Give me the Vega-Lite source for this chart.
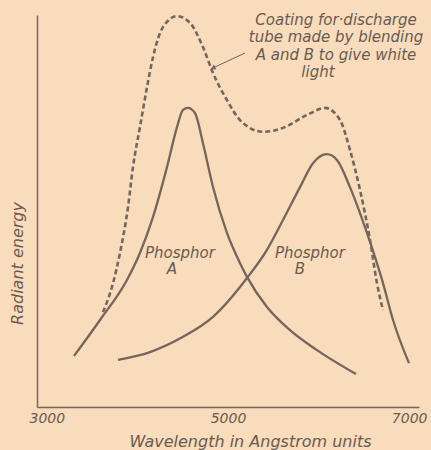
{
  "$schema": "https://vega.github.io/schema/vega-lite/v6.json",
  "width": 382,
  "height": 392,
  "autosize": {"type": "none"},
  "padding": {"left": 37, "top": 15, "right": 12, "bottom": 43},
  "background": "#f8dcbc",
  "config": {
    "view": {"stroke": null},
    "font": "DejaVu Sans",
    "axis": {"grid": false, "domainColor": "#75655c", "domainWidth": 1.5, "labelColor": "#6a5a52", "titleColor": "#6a5a52", "labelFontStyle": "italic", "titleFontStyle": "italic", "titleFontWeight": "normal"}
  },
  "datasets": {
    "curves": [
      {"x": 3387, "y": 13.0, "s": "A"}, {"x": 3660, "y": 22.2, "s": "A"}, {"x": 3942, "y": 32.4, "s": "A"}, {"x": 4078, "y": 39.3, "s": "A"}, {"x": 4215, "y": 48.5, "s": "A"}, {"x": 4361, "y": 61.2, "s": "A"}, {"x": 4466, "y": 71.4, "s": "A"}, {"x": 4529, "y": 75.8, "s": "A"}, {"x": 4581, "y": 76.3, "s": "A"}, {"x": 4654, "y": 75.0, "s": "A"}, {"x": 4738, "y": 67.3, "s": "A"}, {"x": 4843, "y": 56.1, "s": "A"}, {"x": 4989, "y": 44.4, "s": "A"}, {"x": 5126, "y": 36.7, "s": "A"}, {"x": 5199, "y": 33.2, "s": "A"}, {"x": 5408, "y": 25.5, "s": "A"}, {"x": 5649, "y": 19.6, "s": "A"}, {"x": 5932, "y": 14.5, "s": "A"}, {"x": 6340, "y": 8.4, "s": "A"},
      {"x": 3848, "y": 12.0, "s": "B"}, {"x": 4183, "y": 14.0, "s": "B"}, {"x": 4529, "y": 17.9, "s": "B"}, {"x": 4843, "y": 23.0, "s": "B"}, {"x": 5199, "y": 32.9, "s": "B"}, {"x": 5408, "y": 40.1, "s": "B"}, {"x": 5576, "y": 47.7, "s": "B"}, {"x": 5754, "y": 56.1, "s": "B"}, {"x": 5890, "y": 62.2, "s": "B"}, {"x": 6036, "y": 64.5, "s": "B"}, {"x": 6141, "y": 63.0, "s": "B"}, {"x": 6277, "y": 56.1, "s": "B"}, {"x": 6455, "y": 44.4, "s": "B"}, {"x": 6623, "y": 31.6, "s": "B"}, {"x": 6728, "y": 22.2, "s": "B"}, {"x": 6895, "y": 11.2, "s": "B"}
    ],
    "coating": [
      {"x": 3691, "y": 24.2}, {"x": 3796, "y": 31.6}, {"x": 3869, "y": 39.3}, {"x": 3953, "y": 51.0}, {"x": 4005, "y": 61.2}, {"x": 4078, "y": 71.4}, {"x": 4152, "y": 81.6}, {"x": 4215, "y": 89.3}, {"x": 4319, "y": 96.9}, {"x": 4466, "y": 99.7}, {"x": 4602, "y": 98.0}, {"x": 4738, "y": 91.8}, {"x": 4843, "y": 85.2}, {"x": 4989, "y": 78.3}, {"x": 5126, "y": 73.2}, {"x": 5366, "y": 70.2}, {"x": 5576, "y": 71.2}, {"x": 5827, "y": 74.5}, {"x": 6016, "y": 76.3}, {"x": 6173, "y": 73.2}, {"x": 6277, "y": 65.6}, {"x": 6382, "y": 55.4}, {"x": 6487, "y": 42.6}, {"x": 6560, "y": 31.6}, {"x": 6623, "y": 24.7}
    ],
    "notes": [
      {"x": 6131, "y": 98.7, "t": "Coating for·discharge"},
      {"x": 6131, "y": 94.3, "t": "tube made by blending"},
      {"x": 6131, "y": 89.9, "t": "A and B to give white"},
      {"x": 5942, "y": 85.5, "t": "light"},
      {"x": 4497, "y": 39.3, "t": "Phosphor"},
      {"x": 4413, "y": 35.1, "t": "A"},
      {"x": 5858, "y": 39.3, "t": "Phosphor"},
      {"x": 5754, "y": 35.1, "t": "B"}
    ],
    "arrow": [{"x": 5178, "y": 90.3, "x2": 4843, "y2": 86.5}]
  },
  "layer": [
    {
      "data": {"name": "curves"},
      "mark": {"type": "line", "interpolate": "monotone", "color": "#75655c", "strokeWidth": 2.3},
      "encoding": {
        "x": {"field": "x", "type": "quantitative", "scale": {"domain": [3000, 7000], "nice": false, "zero": false},
          "axis": {"values": [3000, 5000, 7000], "format": "d", "ticks": false, "labelFontSize": 14, "labelPadding": 4, "labelFlush": true, "labelFlushOffset": 8, "title": "Wavelength in Angstrom units", "titleFontSize": 16, "titleX": 213, "titleY": 34, "titleBaseline": "middle"}},
        "y": {"field": "y", "type": "quantitative", "scale": {"domain": [0, 100], "nice": false},
          "axis": {"ticks": false, "labels": false, "title": "Radiant energy", "titleFontSize": 16, "titleX": -20, "titleY": 248, "titleAngle": -90, "titleBaseline": "middle"}},
        "detail": {"field": "s", "type": "nominal"}
      }
    },
    {
      "data": {"name": "coating"},
      "mark": {"type": "line", "interpolate": "monotone", "color": "#75655c", "strokeWidth": 2.6, "strokeDash": [5, 3]},
      "encoding": {
        "x": {"field": "x", "type": "quantitative"},
        "y": {"field": "y", "type": "quantitative"}
      }
    },
    {
      "data": {"name": "arrow"},
      "mark": {"type": "rule", "color": "#75655c", "strokeWidth": 1},
      "encoding": {
        "x": {"field": "x", "type": "quantitative"},
        "y": {"field": "y", "type": "quantitative"},
        "x2": {"field": "x2"},
        "y2": {"field": "y2"}
      }
    },
    {
      "data": {"name": "arrow"},
      "mark": {"type": "point", "shape": "triangle-left", "filled": true, "color": "#75655c", "size": 30, "angle": 335, "opacity": 1},
      "encoding": {
        "x": {"field": "x2", "type": "quantitative"},
        "y": {"field": "y2", "type": "quantitative"}
      }
    },
    {
      "data": {"name": "notes"},
      "mark": {"type": "text", "fontStyle": "italic", "fontSize": 15, "color": "#6a5a52", "align": "center", "baseline": "middle"},
      "encoding": {
        "x": {"field": "x", "type": "quantitative"},
        "y": {"field": "y", "type": "quantitative"},
        "text": {"field": "t"}
      }
    }
  ]
}
